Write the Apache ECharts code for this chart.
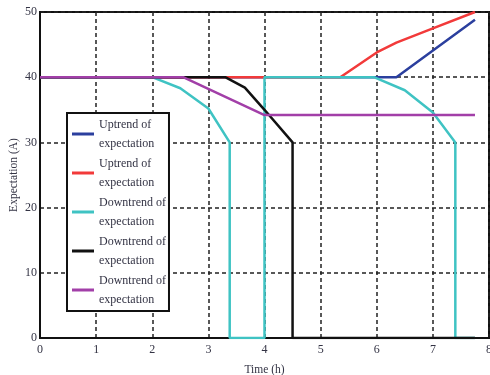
<!DOCTYPE html>
<html><head><meta charset="utf-8">
<script src="https://cdn.jsdelivr.net/npm/echarts@6/dist/echarts.min.js"></script>
<style>html,body{margin:0;padding:0;background:#fff}#c{width:490px;height:375px}</style>
</head><body><div id="c"></div>
<script>
const legendLabels = ["Uptrend of\nexpectation","Uptrend of\nexpectation","Downtrend of\nexpectation","Downtrend of\nexpectation","Downtrend of\nexpectation"];
const seriesKeys = ["s1","s2","s3","s4","s5"];
const colors = ["#2b3f9e","#f23a3a","#3fc3c3","#111111","#a23fa8"];
const xTicks = [0,1,2,3,4,5,6,7,8];
const yTicks = [0,10,20,30,40,50];
const blueData = [[0,40],[6.35,40],[7.75,48.8]];
const redData = [[0,40],[5.35,40],[6.0,43.8],[6.35,45.3],[7.0,47.5],[7.75,50]];
const cyanData = [[0,40],[2.0,40],[2.5,38.3],[3.0,35.2],[3.38,30],[3.38,0],[4.0,0],[4.0,40],[5.95,40],[6.5,38],[7.0,34.6],[7.4,30],[7.4,0],[7.75,0]];
const blackData = [[0,40],[3.3,40],[3.65,38.4],[4.0,35],[4.5,30],[4.5,0],[7.75,0]];
const purpleData = [[0,40],[2.55,40],[4.0,34.2],[7.75,34.2]];
const allData = [blueData, redData, cyanData, blackData, purpleData];

const font = 'Liberation Serif';
const txt = '#333344';
const chart = echarts.init(document.getElementById('c'));
chart.setOption({
  animation:false,
  grid:{left:40,right:1,top:12,bottom:37,show:true,borderColor:'#111',borderWidth:2,backgroundColor:'transparent',outerBoundsMode:'none',containLabel:false},
  xAxis:{type:'value',min:0,max:8,interval:1,
    name:'Time (h)',nameLocation:'middle',nameGap:26,nameMoveOverlap:false,
    nameTextStyle:{fontFamily:font,fontSize:11.5,color:txt},
    axisLine:{show:true,lineStyle:{color:'#111',width:2}},
    axisTick:{show:false},
    axisLabel:{fontFamily:font,fontSize:12,color:txt,margin:6},
    splitLine:{show:true,lineStyle:{color:'#222',width:1.5,type:[4,3]}}},
  yAxis:{type:'value',min:0,max:50,interval:10,
    name:'Expectation (A)',nameLocation:'middle',nameGap:20,nameMoveOverlap:false,
    nameTextStyle:{fontFamily:font,fontSize:11.5,color:txt},
    axisLine:{show:true,lineStyle:{color:'#111',width:2}},
    axisTick:{show:false},
    axisLabel:{fontFamily:font,fontSize:12,color:txt,margin:3},
    splitLine:{show:true,lineStyle:{color:'#222',width:1.5,type:[4,3]}}},
  legend:{orient:'vertical',left:67,top:113,icon:'rect',itemWidth:22,itemHeight:3,itemGap:1,
    backgroundColor:'#fff',borderColor:'#111',borderWidth:2,borderRadius:0,padding:[2,3,2,5],
    textStyle:{fontFamily:font,fontSize:12,lineHeight:19,color:txt},
    formatter:function(n){return legendLabels[seriesKeys.indexOf(n)];},
    data:seriesKeys},
  series: seriesKeys.map((k,i)=>({name:k,type:'line',data:allData[i],showSymbol:false,symbol:'none',
    color:colors[i],lineStyle:{color:colors[i],width:2.5},z:2+i}))
});
</script></body></html>
